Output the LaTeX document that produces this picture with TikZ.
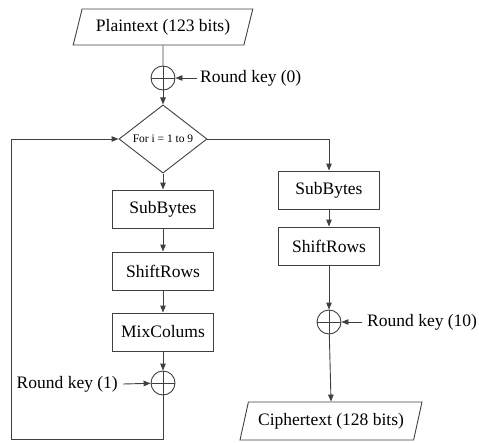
\documentclass[tikz,border=0pt]{standalone}
\usepackage{fontspec}
\setmainfont{Liberation Serif}
\usetikzlibrary{shapes.geometric,arrows.meta}
\begin{document}
\begin{tikzpicture}[x=1pt,y=-1pt,
  line/.style={draw=black!75, line width=0.9pt},
  arr/.style={line, -{Triangle[length=7pt,width=5.5pt]}},
  txt/.style={font=\fontsize{17.5}{21}\selectfont},
  box/.style={txt, draw=black!75, line width=0.9pt, minimum width=101pt, minimum height=38pt, inner sep=0pt},
  io/.style={txt, trapezium, trapezium left angle=65, trapezium right angle=115, trapezium stretches=true, draw=black!75, line width=0.9pt, inner sep=0pt},
  xor/.style={circle, draw=black!75, line width=0.9pt, minimum size=24pt, inner sep=0pt,
    path picture={\draw[black!75, line width=0.9pt] (path picture bounding box.north) -- (path picture bounding box.south) (path picture bounding box.west) -- (path picture bounding box.east);}},
  lbl/.style={txt, inner sep=0pt},
  dec/.style={diamond, draw=black!75, line width=0.9pt, minimum width=88pt, minimum height=48pt, inner sep=0pt, font=\fontsize{11.5}{13}\selectfont}
]
\useasboundingbox (0,0) rectangle (479,442);
\node[io, minimum width=180pt, minimum height=36pt] (pt) at (163,27) {Plaintext (123 bits)};
\node[xor] (x0) at (163,78) {};
\node[lbl, anchor=west] (k0) at (200,78) {Round key (0)};
\node[dec] (d) at (163,139) {For i = 1 to 9};
\node[box] (s1) at (163,209) {SubBytes};
\node[box] (r1) at (163,271) {ShiftRows};
\node[box] (m1) at (163,332) {MixColums};
\node[xor] (x1) at (163,383) {};
\node[lbl, anchor=east] (k1) at (118,384) {Round key (1)};
\node[box] (s2) at (329,190) {SubBytes};
\node[box] (r2) at (329,246) {ShiftRows};
\node[xor] (x2) at (329,322) {};
\node[lbl, anchor=west] (k2) at (367,322) {Round key (10)};
\node[io, minimum width=182pt, minimum height=38pt] (ct) at (331,421) {Ciphertext (128 bits)};
\coordinate (bl) at (11,439);
\coordinate (tl) at (11,139);

\draw[line] (pt) -- (x0);
\draw[arr] ([xshift=-3pt]k0.west) -- (x0);
\draw[arr] (x0) -- (d.north);
\draw[arr] (d.south) -- (s1);
\draw[arr] (s1) -- (r1);
\draw[arr] (r1) -- (m1);
\draw[arr] (m1) -- (x1);
\draw[arr] ([xshift=5pt]k1.east) -- (x1);
\draw[arr] (x1.south) |- (bl) -- (tl) -- (d.west);
\draw[arr] (d.east) -| (s2.north);
\draw[arr] (s2) -- (r2);
\draw[arr] (r2) -- (x2);
\draw[arr] ([xshift=-5pt]k2.west) -- (x2);
\draw[arr] (x2) -- (ct.north);
\end{tikzpicture}
\end{document}
